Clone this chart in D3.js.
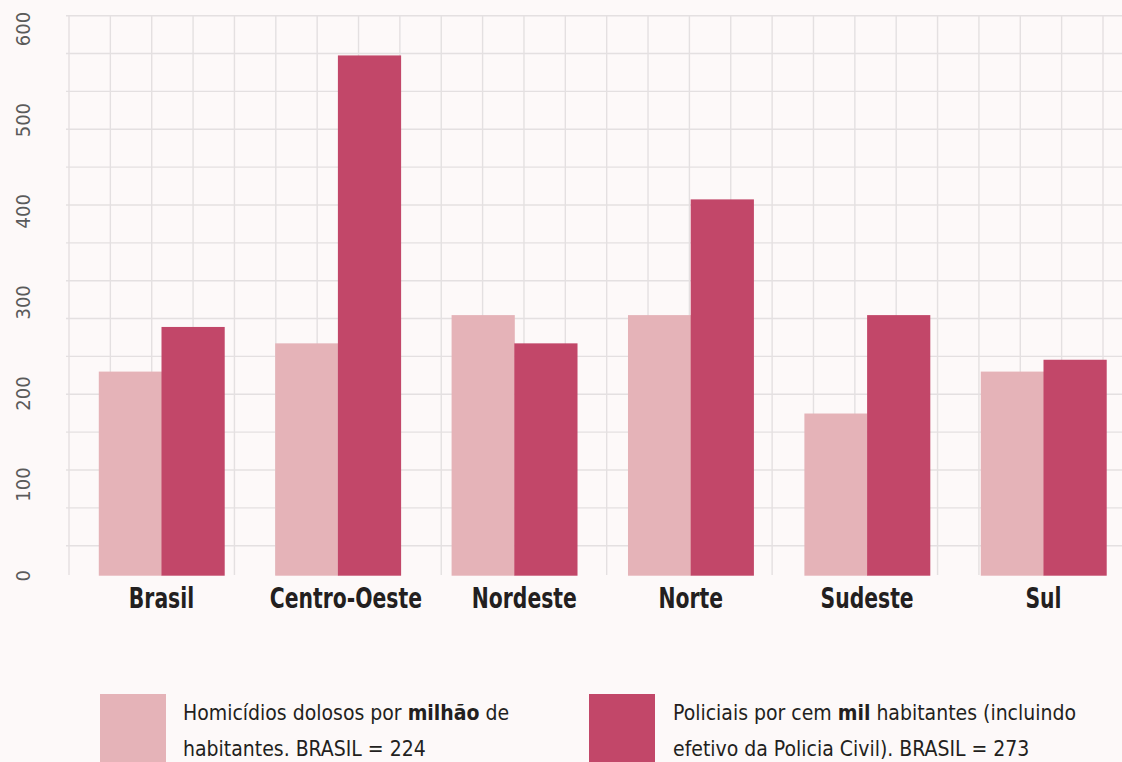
<!DOCTYPE html>
<html>
<head>
<meta charset="utf-8">
<script src="https://cdn.jsdelivr.net/npm/d3@7"></script>
<style>
  html, body { margin: 0; padding: 0; background: #fdf9f9; }
  svg { display: block; }
  .cond { font-family: "Liberation Sans Narrow", "Arial Narrow", "DejaVu Sans Condensed", "Roboto Condensed", Roboto, sans-serif; font-stretch: condensed; }
</style>
</head>
<body>
<svg id="chart" width="1122" height="762"></svg>
<script>
const categories = ["Brasil", "Centro-Oeste", "Nordeste", "Norte", "Sudeste", "Sul"];
const homicidios = [224, 255, 286, 286, 178, 224];
const policiais = [273, 571, 255, 413, 286, 237];
const yTicks = [0, 100, 200, 300, 400, 500, 600];
const seriesNames = ["Homicídios", "Policiais"];
const colors = ["#e5b3b8", "#c24769"];

const svg = d3.select("#chart");
const W = 1122, H = 762;

// background
svg.append("rect").attr("width", W).attr("height", H).attr("fill", "#fdf9f9");

// decorative graph-paper grid
const gx = d3.scaleLinear().domain([0, 25]).range([69, 1103]);
const gy = d3.scaleLinear().domain([0, 14]).range([15.7, 545.7]);
const grid = svg.append("g").attr("stroke", "#e4e0e1").attr("stroke-width", 1.4);
grid.selectAll("line.v").data(d3.range(26)).join("line")
  .attr("x1", d => gx(d)).attr("x2", d => gx(d))
  .attr("y1", 15).attr("y2", 575);
grid.selectAll("line.h").data(d3.range(15)).join("line")
  .attr("x1", 66).attr("x2", W)
  .attr("y1", d => gy(d)).attr("y2", d => gy(d));

const x0 = d3.scaleBand().domain(categories).range([73.3, 1131.7])
  .paddingInner(0.289).paddingOuter(0.1445);
const x1 = d3.scaleBand().domain(seriesNames).range([0, x0.bandwidth()]);
const y = d3.scaleLinear().domain([0, 600]).range([575.7, 29]);

const rows = categories.map((c, i) => ({ cat: c, vals: [homicidios[i], policiais[i]] }));

const groups = svg.append("g").selectAll("g").data(rows).join("g")
  .attr("transform", d => `translate(${x0(d.cat)},0)`);
groups.selectAll("rect").data(d => d.vals.map((v, j) => ({ v, s: seriesNames[j], j }))).join("rect")
  .attr("x", d => x1(d.s))
  .attr("width", x1.bandwidth() + 0.5)
  .attr("y", d => y(d.v))
  .attr("height", d => y(0) - y(d.v))
  .attr("fill", d => colors[d.j]);

// y axis labels (rotated)
const yAxis = svg.append("g").attr("class", "cond");
yAxis.selectAll("text").data(yTicks).join("text")
  .attr("transform", d => `translate(30,${y(d)}) rotate(-90)`)
  .attr("text-anchor", "middle")
  .attr("font-size", 20)
  .attr("fill", "#5a5a5a")
  .text(d => d);

// x axis labels (two labels sit slightly right of their group centre in the original)
const labelNudge = { "Centro-Oeste": 8, "Nordeste": 10 };
svg.append("g").attr("class", "cond").selectAll("text").data(categories).join("text")
  .attr("transform", d => `translate(${x0(d) + x0.bandwidth() / 2 + (labelNudge[d] || 0)},608) scale(0.78,1)`)
  .attr("text-anchor", "middle")
  .attr("font-size", 29)
  .attr("font-weight", "bold")
  .attr("fill", "#231f20")
  .text(d => d);

// legend
const legend = [
  { color: colors[0], x: 100, tx: 183, lines: [["Homicídios dolosos por ", "milhão", " de"], ["habitantes. BRASIL = 224"]] },
  { color: colors[1], x: 589, tx: 673, lines: [["Policiais por cem ", "mil", " habitantes (incluindo"], ["efetivo da Policia Civil). BRASIL = 273"]] }
];
const lg = svg.append("g").attr("class", "cond");
legend.forEach(l => {
  lg.append("rect").attr("x", l.x).attr("y", 694).attr("width", 66).attr("height", 70).attr("fill", l.color);
  l.lines.forEach((parts, i) => {
    const t = lg.append("text").attr("x", l.tx).attr("y", 720 + i * 36)
      .attr("font-size", 21).attr("fill", "#231f20");
    parts.forEach((p, k) => {
      t.append("tspan").attr("font-weight", (parts.length === 3 && k === 1) ? "bold" : "normal").text(p);
    });
  });
});
</script>
</body>
</html>
